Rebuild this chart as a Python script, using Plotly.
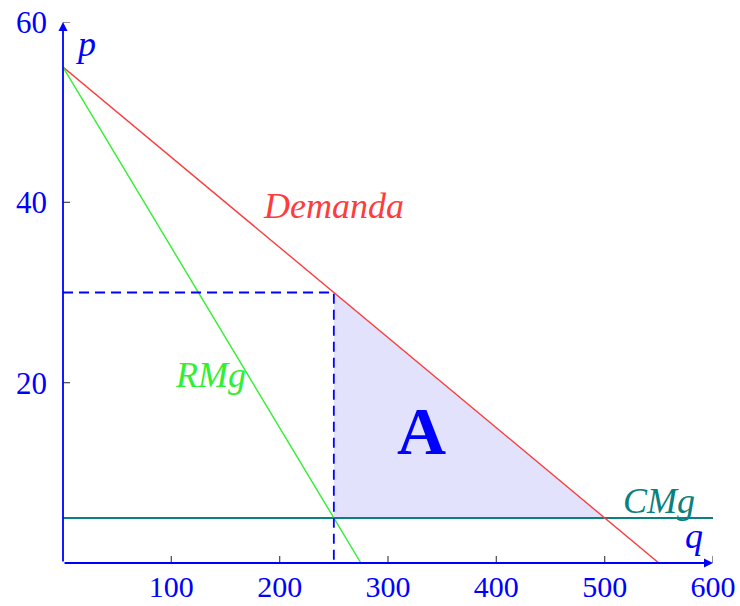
import plotly.graph_objects as go

# ---- data ----
demand_q = [0, 550]
demand_p = [55, 0]
rmg_q = [0, 275]
rmg_p = [55, 0]
cmg_q = [0, 600]
cmg_p = [5, 5]
q_monop = 250
p_monop = 30
q_comp = 500
cmg_value = 5

x_ticks = [100, 200, 300, 400, 500, 600]
y_ticks = [20, 40, 60]
x_max = 600
y_max = 60

label_font = "Liberation Serif"
BLUE = "#0000ff"

fig = go.Figure()

# shaded area A (deadweight loss)
fig.add_trace(go.Scatter(
    x=[q_monop, q_monop, q_comp, q_monop],
    y=[p_monop, cmg_value, cmg_value, p_monop],
    fill="toself", fillcolor="#e2e2fd", line=dict(width=0),
    mode="lines", hoverinfo="skip", showlegend=False))

# CMg
fig.add_trace(go.Scatter(x=cmg_q, y=cmg_p, mode="lines",
                         line=dict(color="#0a8080", width=2), showlegend=False))
# Demand
fig.add_trace(go.Scatter(x=demand_q, y=demand_p, mode="lines",
                         line=dict(color="#ff3c3c", width=1.4), showlegend=False))
# RMg
fig.add_trace(go.Scatter(x=rmg_q, y=rmg_p, mode="lines",
                         line=dict(color="#30f030", width=1.4), showlegend=False))
# dashed guides
fig.add_trace(go.Scatter(x=[0, q_monop, q_monop], y=[p_monop, p_monop, 0], mode="lines",
                         line=dict(color=BLUE, width=1.8, dash="10px,6px"),
                         showlegend=False))

# axes with arrows
fig.add_annotation(x=x_max, y=0, ax=0, ay=0, xref="x", yref="y", axref="x", ayref="y",
                   text="", showarrow=True, arrowhead=2, arrowsize=1, arrowwidth=1.8,
                   arrowcolor=BLUE, standoff=0)
fig.add_annotation(x=0, y=y_max, ax=0, ay=0, xref="x", yref="y", axref="x", ayref="y",
                   text="", showarrow=True, arrowhead=2, arrowsize=1, arrowwidth=1.8,
                   arrowcolor=BLUE, standoff=0)

# tick marks crossing the axes
for t in x_ticks:
    fig.add_shape(type="line", xref="x", yref="y", x0=t, x1=t,
                  ysizemode="pixel", yanchor=0, y0=-7, y1=7,
                  line=dict(color="#555555", width=1.3), layer="above")
for t in y_ticks:
    fig.add_shape(type="line", xref="x", yref="y", y0=t, y1=t,
                  xsizemode="pixel", xanchor=0, x0=-7, x1=7,
                  line=dict(color="#555555", width=1.3), layer="above")

# text labels
def lab(x, y, text, color, size=36):
    fig.add_annotation(x=x, y=y, xref="x", yref="y", text=text, showarrow=False,
                       font=dict(family=label_font, size=size, color=color),
                       xanchor="center", yanchor="middle")

lab(250, 39.6, "<i>Demanda</i>", "#ff3c3c")
lab(136, 20.8, "<i>RMg</i>", "#30f030")
lab(550, 6.9, "<i>CMg</i>", "#0a8080")
lab(582, 3.0, "<i>q</i>", BLUE)
lab(21, 57.6, "<i>p</i>", BLUE)
lab(331, 14.6, "<b>A</b>", BLUE, size=68)

fig.update_xaxes(range=[0, x_max], tickvals=x_ticks, ticktext=[str(v) for v in x_ticks],
                 showgrid=False, zeroline=False, showline=False, ticks="",
                 ticklabelstandoff=3, automargin=False, ticklabeloverflow="allow",
                 tickfont=dict(family=label_font, size=30, color=BLUE))
fig.update_yaxes(range=[0, y_max], tickvals=y_ticks, ticktext=[str(v) for v in y_ticks],
                 showgrid=False, zeroline=False, showline=False, ticks="",
                 ticklabelstandoff=15, automargin=False, ticklabeloverflow="allow",
                 tickfont=dict(family=label_font, size=31, color=BLUE))

fig.update_layout(width=740, height=606,
                  margin=dict(l=63, r=27, t=22, b=43, pad=0, autoexpand=False),
                  plot_bgcolor="white", paper_bgcolor="white",
                  showlegend=False, hovermode=False)

fig.write_html("out.html", config={"displayModeBar": False},
               post_script="document.body.style.margin='0';document.body.style.overflow='hidden';")
